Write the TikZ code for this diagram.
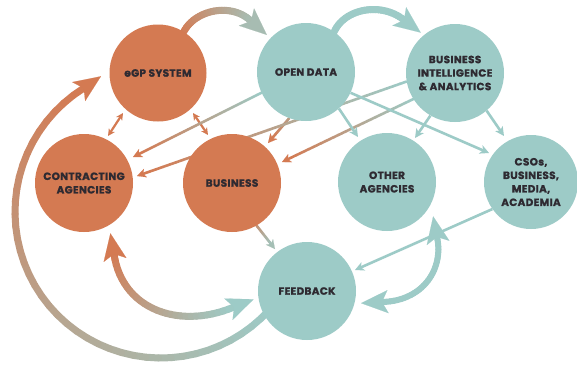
\documentclass[tikz,border=0pt]{standalone}
\usepackage{fontspec}
\newfontfamily\labfont{Poppins}[BoldFeatures={FakeBold=1.2,LetterSpace=3}]
\usetikzlibrary{arrows.meta,calc,backgrounds}
\definecolor{org}{HTML}{D47A52}
\definecolor{tea}{HTML}{9DCBC7}
\definecolor{txt}{HTML}{2E2A31}
\colorlet{teagray}{tea!82!org}

% gradient segments between gp0..gpN
\newcommand\gsegs[4]{%
 \foreach \k in {1,...,#1}{%
   \pgfmathtruncatemacro\kp{\k-1}%
   \pgfmathsetmacro\pc{100*(\k-0.5)/#1}%
   \draw[line width=#4, line cap=round, draw=#3!\pc!#2] (gp\kp) -- (gp\k);
 }}
% points on a cubic Bezier
\newcommand\bezpts[5]{%
 \foreach \k in {0,...,#1}{%
   \pgfmathsetmacro\tq{\k/#1}%
   \pgfmathsetmacro\ba{(1-\tq)^3}%
   \pgfmathsetmacro\bb{3*(1-\tq)^2*\tq}%
   \pgfmathsetmacro\bc{3*(1-\tq)*\tq^2}%
   \pgfmathsetmacro\bd{\tq^3}%
   \coordinate (gp\k) at ($\ba*#2+\bb*#3+\bc*#4+\bd*#5$);}}
% points on a straight line
\newcommand\linpts[3]{%
 \foreach \k in {0,...,#1}{\coordinate (gp\k) at ($#2!{\k/#1}!#3$);}}
% points on a circular arc
\newcommand\arcpts[5]{%
 \foreach \k in {0,...,#1}{%
   \pgfmathsetmacro\aa{#4+(#5-#4)*\k/#1}%
   \coordinate (gp\k) at ($#2+(\aa:#3)$);}}
% arrow heads placed beyond a base point
\newcommand\gheadbig[3]{%
 \draw[draw=#3, line width=0.1pt, -{Stealth[length=27pt,width=23pt,inset=6pt]}] (#2) -- ($(#2)!-21pt!(#1)$);}
\newcommand\gheadsmall[3]{%
 \draw[draw=#3, line width=0.1pt, -{Stealth[length=9pt,width=9pt,inset=2.5pt]}] (#2) -- ($(#2)!-6.5pt!(#1)$);}

\begin{document}
\begin{tikzpicture}[x=1pt,y=-1pt,
  bub/.style={circle, fill=#1, minimum size=98pt, inner sep=0pt, align=center, text=txt,
    font={\labfont\bfseries\fontsize{10.5}{13.5}\selectfont}},
  thinarrow/.style={line width=2.6pt, draw=tea, -{Stealth[length=9pt,width=9pt,inset=2.5pt]}},
  dblarrow/.style={line width=2.2pt, draw=org,
    {Stealth[length=7pt,width=7pt,inset=2pt]}-{Stealth[length=7pt,width=7pt,inset=2pt]}}]
\useasboundingbox (0,0) rectangle (577,365);

\node[bub=org, minimum size=97pt] (egp) at (158,73) {eGP SYSTEM};
\node[bub=tea] (od) at (306,72) {OPEN DATA};
\node[bub=tea] (bi) at (455,73) {BUSINESS\\INTELLIGENCE\\\& ANALYTICS};
\node[bub=org] (ca) at (84,183) {CONTRACTING\\AGENCIES};
\node[bub=org] (bus) at (232,183) {BUSINESS};
\node[bub=tea] (oa) at (387,182) {OTHER\\AGENCIES};
\node[bub=tea, minimum size=94pt] (cso) at (531,182) {CSOs,\\BUSINESS,\\MEDIA,\\ACADEMIA};
\node[bub=tea] (fb) at (307,291) {FEEDBACK};

\begin{scope}[on background layer]
 \fill[white] (0,0) rectangle (577,365);

 % eGP -> OPEN DATA (top arc)
 \bezpts{30}{(egp.58)}{(195,10)}{(231,2)}{(251,21)}
 \gsegs{30}{org}{teagray}{7pt}
 \gheadbig{gp29}{gp30}{teagray}

 % OPEN DATA -> BI (top arc)
 \bezpts{30}{(od.55)}{(345,8)}{(382,2)}{(404,20)}
 \gsegs{30}{tea}{tea}{7pt}
 \gheadbig{gp29}{gp30}{tea}

 % eGP <-> contracting, eGP <-> business
 \coordinate (cA1) at ($(egp)+(-35,40)$);
 \coordinate (cA2) at ($(ca)+(24,-47)$);
 \draw[dblarrow] (cA1) -- (cA2);
 \coordinate (cB1) at ($(egp)+(35,40)$);
 \coordinate (cB2) at ($(bus)+(-24,-48)$);
 \draw[dblarrow] (cB1) -- (cB2);

 % OPEN DATA -> contracting
 \coordinate (tE) at ($(ca)+(49,-26)$);
 \coordinate (bE) at ($(tE)!6.5pt!(od.205)$);
 \linpts{30}{(od.205)}{(bE)}
 \gsegs{30}{tea}{org}{2.6pt}
 \gheadsmall{gp29}{gp30}{org}

 % OPEN DATA -> business
 \coordinate (tF) at ($(bus)+(36,-40)$);
 \coordinate (bF) at ($(tF)!6.5pt!(od.250)$);
 \linpts{12}{(od.250)}{(bF)}
 \gsegs{12}{tea!45!org}{org}{2.6pt}
 \gheadsmall{gp11}{gp12}{org}

 % BI -> contracting
 \coordinate (tG) at ($(ca)+(53,-7)$);
 \coordinate (bG) at ($(tG)!6.5pt!(bi.190)$);
 \linpts{40}{(bi.190)}{(bG)}
 \gsegs{40}{tea}{org}{2.6pt}
 \gheadsmall{gp39}{gp40}{org}

 % BI -> business
 \coordinate (tH) at ($(bus)+(50,-21)$);
 \coordinate (bH) at ($(tH)!6.5pt!(bi.212)$);
 \linpts{30}{(bi.212)}{(bH)}
 \gsegs{30}{tea}{org}{2.6pt}
 \gheadsmall{gp29}{gp30}{org}

 % teal straight arrows
 \coordinate (tI) at ($(oa)+(-29,-45)$);
 \draw[thinarrow] (od.312) -- (tI);
 \coordinate (tJ) at ($(cso)+(-42,-29)$);
 \draw[thinarrow] (od.335) -- (tJ);
 \coordinate (tK) at ($(oa)+(28,-44)$);
 \draw[thinarrow] (bi.240) -- (tK);
 \coordinate (tL) at ($(cso)+(-27,-46)$);
 \draw[thinarrow] (bi.310) -- (tL);
 \coordinate (tN) at ($(fb)+(48,-21)$);
 \draw[thinarrow] (cso.215) -- (tN);

 % business -> feedback
 \coordinate (tM) at ($(fb)+(-32,-42)$);
 \coordinate (bM) at ($(tM)!6.5pt!(bus.300)$);
 \linpts{12}{(bus.300)}{(bM)}
 \gsegs{12}{org!70!tea}{tea!85!org}{2.6pt}
 \gheadsmall{gp11}{gp12}{tea!85!org}

 % other agencies <-> feedback
 \coordinate (oS) at ($(fb)+(75,11)$);
 \coordinate (oE) at ($(oa)+(50,55)$);
 \bezpts{30}{(oS)}{(424,301)}{(444,268)}{(oE)}
 \gsegs{30}{tea}{tea}{6pt}
 \gheadbig{gp1}{gp0}{tea}
 \gheadbig{gp29}{gp30}{tea}

 % contracting <-> feedback
 \coordinate (pS) at ($(ca)+(30,71)$);
 \coordinate (pE) at ($(fb)+(-73,16)$);
 \bezpts{30}{(pS)}{(122,310)}{(180,330)}{(pE)}
 \gsegs{30}{org}{tea}{7pt}
 \gheadbig{gp1}{gp0}{org}
 \gheadbig{gp29}{gp30}{tea}

 % feedback -> eGP (outer arc)
 \arcpts{40}{(161,212)}{146}{42}{238}
 \gsegs{40}{tea}{org}{7pt}
 \gheadbig{gp39}{gp40}{org}
\end{scope}
\end{tikzpicture}
\end{document}
